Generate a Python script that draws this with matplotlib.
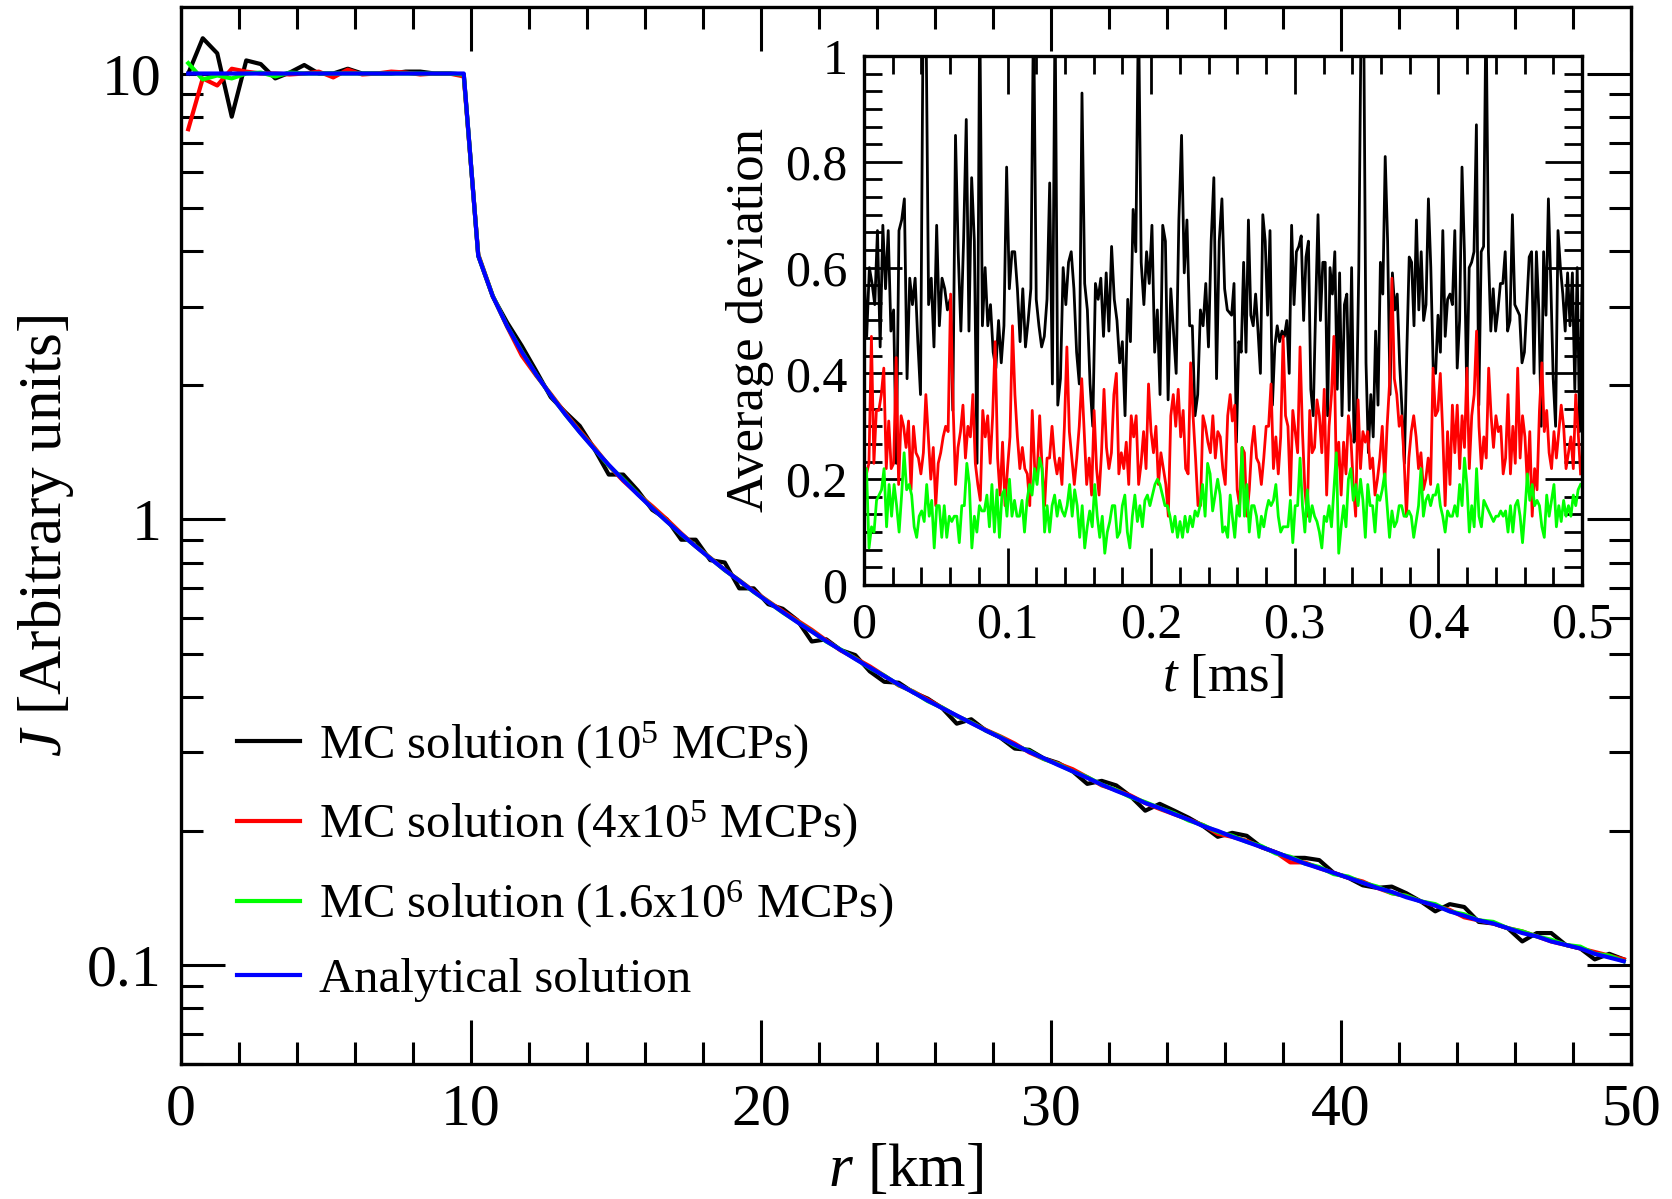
import numpy as np
import matplotlib
matplotlib.use("Agg")
import matplotlib.pyplot as plt
from matplotlib.ticker import FixedLocator, MultipleLocator, LogLocator, NullFormatter

plt.rcParams['font.family'] = ['Liberation Serif', 'DejaVu Serif']
plt.rcParams['mathtext.fontset'] = 'custom'
plt.rcParams['mathtext.rm'] = 'Liberation Serif'
plt.rcParams['mathtext.it'] = 'Liberation Serif:italic'

# ---- main panel: J(r) ----
r = np.arange(0.25, 50.0, 0.5)   # 100 bins

J_analytic = [10.0] * 20 + [
    3.902, 3.165, 2.709, 2.375, 2.112, 1.898, 1.720, 1.568, 1.438, 1.325,
    1.225, 1.137, 1.059, 0.989, 0.926, 0.869, 0.817, 0.770, 0.728, 0.688,
    0.652, 0.619, 0.588, 0.560, 0.533, 0.509, 0.486, 0.465, 0.445, 0.426,
    0.409, 0.392, 0.377, 0.363, 0.349, 0.336, 0.324, 0.312, 0.301, 0.291,
    0.281, 0.272, 0.263, 0.254, 0.246, 0.239, 0.231, 0.225, 0.218, 0.212,
    0.205, 0.200, 0.194, 0.189, 0.184, 0.179, 0.174, 0.169, 0.165, 0.161,
    0.157, 0.153, 0.149, 0.146, 0.142, 0.139, 0.136, 0.132, 0.129, 0.126,
    0.124, 0.121, 0.118, 0.116, 0.113, 0.111, 0.109, 0.106, 0.104, 0.102]

J_1e5 = [
    10.0, 12.0, 11.1, 8.0, 10.7, 10.5, 9.75, 10.05, 10.45, 10.0,
    10.0, 10.25, 10.0, 10.0, 10.0, 10.1, 10.1, 10.0, 10.0, 9.95,
    3.90, 3.16, 2.76, 2.45, 2.15, 1.88, 1.74, 1.62, 1.44, 1.26,
    1.26, 1.16, 1.05, 1.00, 0.90, 0.90, 0.81, 0.80, 0.70, 0.70,
    0.645, 0.630, 0.594, 0.532, 0.538, 0.509, 0.496, 0.456, 0.432, 0.430,
    0.409, 0.396, 0.377, 0.348, 0.356, 0.336, 0.324, 0.306, 0.304, 0.291,
    0.284, 0.272, 0.255, 0.259, 0.253, 0.239, 0.222, 0.230, 0.222, 0.214,
    0.205, 0.194, 0.198, 0.195, 0.184, 0.179, 0.174, 0.174, 0.172, 0.161,
    0.157, 0.151, 0.149, 0.150, 0.145, 0.139, 0.132, 0.137, 0.135, 0.125,
    0.124, 0.121, 0.113, 0.118, 0.118, 0.111, 0.109, 0.103, 0.106, 0.103]

J_4e5 = [
    7.5, 9.75, 9.4, 10.25, 10.1, 10.0, 10.0, 9.95, 10.0, 10.1,
    9.8, 10.2, 9.95, 10.0, 10.1, 10.05, 9.95, 10.0, 10.0, 9.85,
    3.93, 3.17, 2.70, 2.33, 2.10, 1.91, 1.73, 1.58, 1.45, 1.32,
    1.22, 1.14, 1.07, 1.00, 0.93, 0.87, 0.82, 0.77, 0.73, 0.69,
    0.655, 0.622, 0.593, 0.565, 0.535, 0.508, 0.488, 0.468, 0.446, 0.424,
    0.411, 0.394, 0.378, 0.362, 0.350, 0.337, 0.326, 0.314, 0.300, 0.290,
    0.283, 0.275, 0.264, 0.253, 0.247, 0.240, 0.231, 0.224, 0.218, 0.212,
    0.206, 0.197, 0.194, 0.190, 0.184, 0.179, 0.170, 0.170, 0.165, 0.161,
    0.157, 0.154, 0.149, 0.145, 0.143, 0.139, 0.136, 0.133, 0.128, 0.126,
    0.124, 0.121, 0.119, 0.116, 0.113, 0.111, 0.109, 0.107, 0.105, 0.103]

J_16e5 = [
    10.55, 9.7, 9.9, 9.75, 10.0, 10.05, 9.85, 10.05, 10.0, 10.0,
    10.0, 10.0, 10.0, 10.0, 10.0, 10.0, 10.0, 10.0, 10.0, 9.95,
    3.91, 3.17, 2.71, 2.38, 2.11, 1.90, 1.72, 1.57, 1.44, 1.32,
    1.23, 1.14, 1.06, 0.990, 0.925, 0.870, 0.818, 0.769, 0.729, 0.687,
    0.653, 0.618, 0.589, 0.561, 0.532, 0.510, 0.487, 0.464, 0.446, 0.425,
    0.410, 0.391, 0.378, 0.362, 0.350, 0.336, 0.325, 0.311, 0.302, 0.290,
    0.282, 0.272, 0.264, 0.254, 0.247, 0.238, 0.232, 0.225, 0.219, 0.211,
    0.206, 0.199, 0.195, 0.189, 0.185, 0.178, 0.175, 0.169, 0.166, 0.160,
    0.158, 0.153, 0.150, 0.145, 0.143, 0.139, 0.137, 0.132, 0.130, 0.126,
    0.125, 0.121, 0.119, 0.116, 0.114, 0.111, 0.110, 0.106, 0.105, 0.102]

labels = ["MC solution (10$^5$ MCPs)",
          "MC solution (4x10$^5$ MCPs)",
          "MC solution (1.6x10$^6$ MCPs)",
          "Analytical solution"]
colors = ["black", "#ff0000", "#00ff00", "#0000ff"]

# ---- inset: average deviation vs t ----
dev_black_a = [
    0.60, 0.47, 0.60, 0.57, 0.53, 0.67, 0.45, 0.68, 0.56, 0.67,
    0.48, 0.52, 0.23, 0.67, 0.69, 0.73, 0.39, 0.58, 0.53, 0.58,
    0.46, 0.36, 1.10, 1.10, 0.53, 0.58, 0.45, 0.68, 0.49, 0.58,
    0.56, 0.52, 0.54, 0.33, 0.85, 0.63, 0.48, 0.65, 0.88, 0.48,
    0.77, 0.65, 0.23, 1.10, 0.49, 0.60, 0.49, 0.53, 0.44, 0.41,
    0.50, 0.42, 0.49, 0.79, 0.56, 0.63, 0.63, 0.56, 0.46, 0.56,
    0.45, 0.50, 0.56, 1.10, 0.54, 0.49, 0.45, 0.47, 0.54, 0.76,
    0.38, 1.10, 0.34, 0.39, 0.60, 0.53, 0.61, 0.63, 0.56, 0.44,
    0.38, 0.93, 0.57, 0.52, 0.38, 0.30, 0.57, 0.54, 0.58, 0.47,
    0.59, 0.48, 0.64, 0.54, 0.50, 0.42, 0.46, 0.32, 0.54, 0.46,
    0.71, 0.63, 1.10, 0.61, 0.53, 0.63, 0.57, 0.68, 0.44, 0.52,
    0.36, 0.68, 0.65, 0.35, 0.56, 0.48, 0.40, 0.69, 0.85, 0.59,
    0.69, 0.49, 0.49, 0.32, 0.36, 0.52, 0.49, 0.57, 0.45, 0.65,
    0.77, 0.39, 0.65, 0.73, 0.56, 0.52]
dev_black_b = [
    0.51, 0.57, 0.27, 0.46, 0.44, 0.61, 0.44, 0.69, 0.51, 0.49,
    0.55, 0.48, 0.40, 0.70, 0.65, 0.51, 0.67, 0.34, 0.45, 0.49,
    0.46, 0.48, 0.47, 0.50, 0.40, 0.68, 0.53, 0.63, 0.64, 0.66,
    0.50, 0.62, 0.65, 0.37, 0.32, 0.52, 0.70, 0.50, 0.61, 0.61,
    0.32, 0.60, 0.55, 0.63, 0.37, 0.59, 0.32, 0.53, 0.55, 0.33,
    0.60, 0.27, 0.32, 0.60, 1.10, 1.10, 0.42, 0.25, 0.36, 0.28,
    0.48, 0.34, 0.61, 0.55, 0.81, 0.65, 0.36, 0.59, 0.52, 0.55,
    0.42, 0.33, 0.23, 0.44, 0.62, 0.61, 0.49, 0.69, 0.52, 0.63,
    0.50, 0.53, 0.73, 0.60, 0.41, 0.40, 0.51, 0.44, 0.67, 0.47,
    0.54, 0.55, 0.53, 0.67, 0.41, 0.50, 0.79, 0.63, 0.36, 0.60,
    0.61, 0.63, 0.87, 0.34, 0.63, 0.64, 1.10, 0.63, 0.48, 0.56,
    0.48, 0.52, 0.57, 0.57, 0.63, 0.48, 0.50, 0.70, 0.53, 0.52,
    0.51, 0.42, 0.44, 0.53, 0.62, 0.63, 0.40, 0.63, 0.52, 0.30,
    0.63, 0.51, 0.73, 0.57, 0.39, 0.30, 0.67, 0.60, 0.55, 0.48,
    0.59, 0.49, 0.59, 0.37, 0.60, 0.29, 0.56]

dev_red_a = [
    0.22, 0.21, 0.23, 0.47, 0.23, 0.33, 0.33, 0.36, 0.41, 0.22,
    0.31, 0.22, 0.23, 0.43, 0.19, 0.32, 0.30, 0.26, 0.31, 0.18,
    0.30, 0.25, 0.24, 0.21, 0.25, 0.36, 0.28, 0.20, 0.26, 0.15,
    0.23, 0.25, 0.28, 0.30, 0.29, 0.55, 0.34, 0.19, 0.26, 0.29,
    0.34, 0.24, 0.30, 0.28, 0.36, 0.23, 0.19, 0.16, 0.33, 0.28,
    0.32, 0.23, 0.32, 0.46, 0.24, 0.17, 0.27, 0.15, 0.22, 0.28,
    0.49, 0.36, 0.28, 0.22, 0.26, 0.22, 0.21, 0.15, 0.33, 0.22,
    0.21, 0.32, 0.22, 0.15, 0.24, 0.24, 0.30, 0.24, 0.21, 0.24,
    0.19, 0.30, 0.45, 0.29, 0.24, 0.19, 0.24, 0.30, 0.39, 0.29,
    0.19, 0.24, 0.17, 0.33, 0.22, 0.17, 0.25, 0.37, 0.26, 0.22,
    0.25, 0.36, 0.40, 0.21, 0.25, 0.22, 0.27, 0.19, 0.32, 0.28,
    0.32, 0.19, 0.23, 0.29, 0.22, 0.38, 0.29, 0.25, 0.30, 0.19,
    0.25, 0.22, 0.19, 0.13, 0.32, 0.36, 0.30, 0.37, 0.28, 0.33,
    0.22, 0.21, 0.42, 0.32, 0.24, 0.15, 0.15, 0.32, 0.30, 0.27,
    0.25, 0.32, 0.24, 0.29, 0.28, 0.22, 0.19, 0.32, 0.36]
dev_red_b = [
    0.31, 0.34, 0.18, 0.15, 0.26, 0.25, 0.13, 0.18, 0.26, 0.30,
    0.24, 0.23, 0.19, 0.24, 0.30, 0.30, 0.38, 0.22, 0.28, 0.21,
    0.28, 0.47, 0.32, 0.30, 0.17, 0.33, 0.29, 0.25, 0.45, 0.29,
    0.18, 0.13, 0.33, 0.25, 0.26, 0.35, 0.32, 0.25, 0.37, 0.17,
    0.30, 0.36, 0.47, 0.21, 0.27, 0.17, 0.27, 0.21, 0.32, 0.28,
    0.19, 0.13, 0.35, 0.22, 0.29, 0.27, 0.29, 0.22, 0.24, 0.17,
    0.20, 0.24, 0.30, 0.19, 0.30, 0.38, 0.58, 0.39, 0.36, 0.30,
    0.32, 0.24, 0.13, 0.24, 0.29, 0.32, 0.28, 0.22, 0.25, 0.18,
    0.20, 0.24, 0.19, 0.41, 0.32, 0.33, 0.40, 0.29, 0.15, 0.29,
    0.19, 0.34, 0.25, 0.34, 0.22, 0.32, 0.26, 0.41, 0.22, 0.32,
    0.36, 0.48, 0.30, 0.22, 0.28, 0.24, 0.41, 0.32, 0.26, 0.32,
    0.29, 0.30, 0.21, 0.24, 0.36, 0.21, 0.30, 0.23, 0.41, 0.24,
    0.32, 0.28, 0.19, 0.29, 0.13, 0.22, 0.18, 0.33, 0.42, 0.29,
    0.33, 0.25, 0.22, 0.29, 0.24, 0.29, 0.34, 0.30, 0.22, 0.25,
    0.28, 0.22, 0.36, 0.29, 0.21]

dev_green_a = [
    0.20, 0.22, 0.07, 0.11, 0.10, 0.16, 0.17, 0.18, 0.22, 0.11,
    0.19, 0.13, 0.19, 0.15, 0.10, 0.17, 0.25, 0.18, 0.19, 0.17,
    0.11, 0.09, 0.13, 0.14, 0.12, 0.19, 0.13, 0.16, 0.07, 0.15,
    0.15, 0.09, 0.15, 0.09, 0.13, 0.12, 0.13, 0.13, 0.08, 0.15,
    0.15, 0.23, 0.19, 0.07, 0.13, 0.10, 0.15, 0.14, 0.14, 0.17,
    0.11, 0.19, 0.10, 0.18, 0.09, 0.17, 0.18, 0.13, 0.20, 0.13,
    0.16, 0.13, 0.13, 0.16, 0.10, 0.16, 0.19, 0.17, 0.22, 0.19,
    0.24, 0.22, 0.10, 0.15, 0.10, 0.15, 0.17, 0.13, 0.16, 0.14,
    0.13, 0.15, 0.19, 0.13, 0.18, 0.15, 0.09, 0.15, 0.07, 0.11,
    0.14, 0.11, 0.19, 0.13, 0.09, 0.13, 0.06, 0.10, 0.12, 0.15,
    0.15, 0.09, 0.10, 0.15, 0.17, 0.10, 0.07, 0.13, 0.17, 0.12,
    0.15, 0.11, 0.16, 0.17, 0.15, 0.17, 0.19, 0.20, 0.19, 0.17,
    0.15, 0.15, 0.13, 0.10, 0.13, 0.09, 0.12, 0.09, 0.13, 0.10,
    0.13, 0.11, 0.14, 0.13, 0.15, 0.19, 0.13, 0.23, 0.21, 0.14,
    0.17, 0.20, 0.17, 0.10, 0.11, 0.09, 0.17]
dev_green_b = [
    0.13, 0.09, 0.15, 0.13, 0.26, 0.13, 0.19, 0.10, 0.15, 0.15,
    0.13, 0.09, 0.13, 0.11, 0.14, 0.16, 0.15, 0.16, 0.19, 0.13,
    0.10, 0.11, 0.11, 0.11, 0.16, 0.08, 0.15, 0.15, 0.24, 0.15,
    0.10, 0.18, 0.12, 0.15, 0.13, 0.12, 0.10, 0.07, 0.13, 0.12,
    0.15, 0.11, 0.18, 0.25, 0.06, 0.11, 0.15, 0.11, 0.20, 0.22,
    0.16, 0.19, 0.15, 0.20, 0.16, 0.09, 0.19, 0.15, 0.15, 0.10,
    0.17, 0.16, 0.18, 0.21, 0.15, 0.09, 0.14, 0.11, 0.12, 0.15,
    0.15, 0.13, 0.13, 0.14, 0.13, 0.09, 0.12, 0.15, 0.22, 0.13,
    0.16, 0.17, 0.15, 0.17, 0.17, 0.19, 0.15, 0.13, 0.10, 0.14,
    0.13, 0.13, 0.15, 0.13, 0.19, 0.15, 0.24, 0.19, 0.10, 0.15,
    0.11, 0.22, 0.13, 0.11, 0.16, 0.15, 0.14, 0.13, 0.12, 0.13,
    0.13, 0.14, 0.13, 0.14, 0.10, 0.15, 0.10, 0.15, 0.16, 0.13,
    0.08, 0.14, 0.21, 0.16, 0.19, 0.15, 0.16, 0.15, 0.11, 0.09,
    0.17, 0.13, 0.16, 0.19, 0.11, 0.15, 0.12, 0.16, 0.13, 0.15,
    0.13, 0.17, 0.15, 0.18, 0.19]

t_black = np.concatenate([np.linspace(0.0, 0.253, len(dev_black_a)),
                          np.linspace(0.256, 0.500, len(dev_black_b))])
t_red = np.concatenate([np.linspace(0.0, 0.255, len(dev_red_a)),
                        np.linspace(0.2565, 0.499, len(dev_red_b))])
t_green = np.concatenate([np.linspace(0.0, 0.255, len(dev_green_a)),
                          np.linspace(0.2565, 0.499, len(dev_green_b))])
dev_black = dev_black_a + dev_black_b
dev_red = dev_red_a + dev_red_b
dev_green = dev_green_a + dev_green_b

# ---- figure ----
W, H = 1672, 1199
fig = plt.figure(figsize=(W / 100, H / 100), dpi=100)
ax = fig.add_axes([181 / W, 1 - 1064 / H, 1450 / W, 1057 / H])

for y, c, lab in zip([J_1e5, J_4e5, J_16e5, J_analytic], colors, labels):
    ax.plot(r, y, color=c, lw=3.0, label=lab)

ax.set_yscale('log')
ax.set_xlim(0, 50)
ax.set_ylim(0.06, 14.1)
ax.xaxis.set_major_locator(MultipleLocator(10))
ax.xaxis.set_minor_locator(MultipleLocator(2))
ax.yaxis.set_major_locator(FixedLocator([0.1, 1, 10]))
ax.yaxis.set_minor_locator(LogLocator(base=10, subs=np.arange(2, 10)))
ax.yaxis.set_minor_formatter(NullFormatter())
ax.set_yticklabels(['0.1', '1', '10'])
ax.tick_params(which='both', direction='in', top=True, right=True, width=2.2,
               labelsize=43)
ax.tick_params(which='major', length=32, pad=14)
ax.tick_params(which='minor', length=16)
for s in ax.spines.values():
    s.set_linewidth(2.4)

ax.set_xlabel("$r$ [km]", fontsize=44, labelpad=4)
ax.set_ylabel("$J$ [Arbitrary units]", fontsize=44, labelpad=8)

leg = ax.legend(loc='lower left', bbox_to_anchor=(0.025, 0.04), frameon=False,
                fontsize=35, handlelength=1.3, handletextpad=0.4,
                labelspacing=0.58, borderaxespad=0)

# inset
ax2 = fig.add_axes([864 / W, 1 - 585 / H, 718 / W, 529 / H])
ax2.plot(t_black, dev_black, color='black', lw=2.0)
ax2.plot(t_red, dev_red, color='#ff0000', lw=2.0)
ax2.plot(t_green, dev_green, color='#00ff00', lw=2.0)
ax2.set_xlim(0, 0.5)
ax2.set_ylim(0, 1)
ax2.xaxis.set_minor_locator(MultipleLocator(0.02))
ax2.yaxis.set_minor_locator(MultipleLocator(0.2 / 6))
ax2.set_xticks([0, 0.1, 0.2, 0.3, 0.4, 0.5])
ax2.set_xticklabels(['0', '0.1', '0.2', '0.3', '0.4', '0.5'])
ax2.set_yticks([0, 0.2, 0.4, 0.6, 0.8, 1.0])
ax2.set_yticklabels(['0', '0.2', '0.4', '0.6', '0.8', '1'])
ax2.tick_params(which='both', direction='in', top=True, right=True, width=2.0,
                labelsize=36)
ax2.tick_params(which='major', length=27, pad=12)
ax2.tick_params(which='minor', length=13)
for s in ax2.spines.values():
    s.set_linewidth(2.4)
ax2.set_xlabel("$t$ [ms]", fontsize=38, labelpad=4)
ax2.set_ylabel("Average deviation", fontsize=38, labelpad=8)

fig.savefig("out.png", dpi=100)
